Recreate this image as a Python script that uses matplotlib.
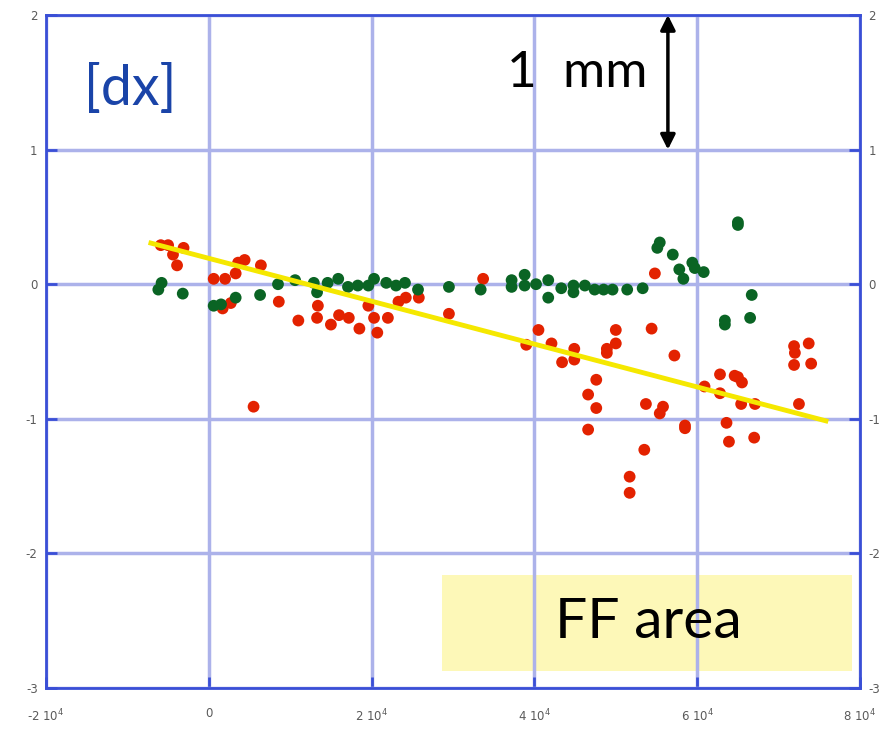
import matplotlib
matplotlib.use("Agg")
import matplotlib.pyplot as plt
from matplotlib.patches import Rectangle

plt.rcParams["axes.unicode_minus"] = False

# ---- data (x in units of 1e3) ----
red_x = [-5.9, -5.0, -3.1, -4.4, -3.9, 0.6, 2.0, 3.3, 3.6, 4.4, 6.4, 2.7, 1.7, 8.6,
         11.0, 13.4, 13.3, 15.0, 16.0, 17.2, 18.5, 19.6, 20.3, 20.7, 22.0, 23.3,
         24.2, 25.8, 29.5, 33.7, 5.5, 54.8, 54.4, 57.2, 40.5, 39.0, 42.1, 43.4,
         44.9, 44.9, 50.0, 50.0, 48.9, 48.9, 47.6, 46.6, 47.6, 46.6, 53.7, 55.8,
         55.4, 58.5, 58.5, 53.5, 51.7, 51.7, 60.9, 62.8, 62.8, 64.6, 65.0, 65.5,
         65.4, 67.1, 63.6, 63.9, 67.0, 71.9, 72.0, 71.9, 73.7, 74.0, 72.5]
red_y = [0.29, 0.29, 0.27, 0.22, 0.14, 0.04, 0.04, 0.08, 0.16, 0.18, 0.14, -0.14,
         -0.18, -0.13, -0.27, -0.16, -0.25, -0.30, -0.23, -0.25, -0.33, -0.16,
         -0.25, -0.36, -0.25, -0.13, -0.10, -0.10, -0.22, 0.04, -0.91, 0.08, -0.33,
         -0.53, -0.34, -0.45, -0.44, -0.58, -0.48, -0.56, -0.34, -0.44, -0.48,
         -0.51, -0.71, -0.82, -0.92, -1.08, -0.89, -0.91, -0.96, -1.05, -1.07,
         -1.23, -1.43, -1.55, -0.76, -0.67, -0.81, -0.68, -0.69, -0.73, -0.89,
         -0.89, -1.03, -1.17, -1.14, -0.46, -0.51, -0.60, -0.44, -0.59, -0.89]

green_x = [-5.8, -6.2, -3.2, 0.6, 1.5, 3.3, 6.3, 8.5, 10.6, 12.9, 13.3, 14.6, 15.9,
           17.1, 18.3, 19.6, 20.3, 21.8, 23.0, 24.1, 25.7, 29.5, 33.4, 37.2, 37.2,
           38.8, 38.8, 40.2, 41.7, 41.7, 43.3, 44.8, 44.8, 46.2, 47.4, 48.5, 49.6,
           51.4, 53.3, 55.4, 55.1, 57.0, 57.8, 58.3, 59.4, 59.7, 60.8, 65.0, 65.0,
           66.7, 63.4, 63.4, 66.5]
green_y = [0.01, -0.04, -0.07, -0.16, -0.15, -0.10, -0.08, 0.0, 0.03, 0.01, -0.06,
           0.01, 0.04, -0.02, -0.01, -0.01, 0.04, 0.01, -0.01, 0.01, -0.04, -0.02,
           -0.04, 0.03, -0.02, 0.07, -0.01, 0.0, 0.03, -0.10, -0.03, -0.01, -0.06,
           -0.01, -0.04, -0.04, -0.04, -0.04, -0.03, 0.31, 0.27, 0.22, 0.11, 0.04,
           0.16, 0.12, 0.09, 0.46, 0.44, -0.08, -0.27, -0.30, -0.25]

fit_x = [-7.4, 76.1]
fit_y = [0.31, -1.02]

x_ticks = [-20, 0, 20, 40, 60, 80]
x_tick_labels = ["-2 10$^4$", "0", "2 10$^4$", "4 10$^4$", "6 10$^4$", "8 10$^4$"]
y_ticks = [-3, -2, -1, 0, 1, 2]

ff_box = (28.6, -2.87, 50.4, 0.71)  # x0, y0, width, height

# ---- figure ----
fig = plt.figure(figsize=(8.83, 7.30), dpi=100)
ax = fig.add_axes([46/883, 1 - 688/730, (860 - 46)/883, (688 - 15)/730])
ax.set_xlim(-20, 80)
ax.set_ylim(-3, 2)

spine_col = "#3a4fd6"
grid_col = "#acb2ea"

for s in ax.spines.values():
    s.set_color(spine_col)
    s.set_linewidth(2)

ax.set_xticks(x_ticks)
ax.set_xticklabels(x_tick_labels)
ax.set_yticks(y_ticks)
ax.tick_params(axis="both", direction="in", color=spine_col, width=2, length=8,
               labelsize=8.5, labelcolor="#5a5a5a")
ax.tick_params(axis="y", right=True, labelright=True, pad=6)
ax.tick_params(axis="x", top=False, pad=14)
ax.grid(True, color=grid_col, linewidth=2.5)

ax.add_patch(Rectangle((ff_box[0], ff_box[1]), ff_box[2], ff_box[3],
                       facecolor="#fdf8b8", edgecolor="none", zorder=1))
ax.text(54.0, -2.51, "FF area", fontsize=41, family="Lato", color="black",
        ha="center", va="center", zorder=2)

ax.scatter(red_x, red_y, s=72, color="#e32200", edgecolors="none", zorder=3)
ax.scatter(green_x, green_y, s=72, color="#0a6424", edgecolors="none", zorder=4)
ax.plot(fit_x, fit_y, color="#f5e800", linewidth=3.5, solid_capstyle="butt", zorder=5)

ax.text(-15.3, 1.45, "[dx]", fontsize=40, family="Lato", color="#1a44a8",
        ha="left", va="center")
ax.text(53.9, 1.57, "1  mm", fontsize=37, family="Lato", color="black",
        ha="right", va="center")
ax.annotate("", xy=(56.4, 2.0), xytext=(56.4, 1.0),
            arrowprops=dict(arrowstyle="<|-|>", color="black", lw=2.5,
                            mutation_scale=22, shrinkA=0, shrinkB=0),
            annotation_clip=False)

fig.savefig("out.png", dpi=100)
